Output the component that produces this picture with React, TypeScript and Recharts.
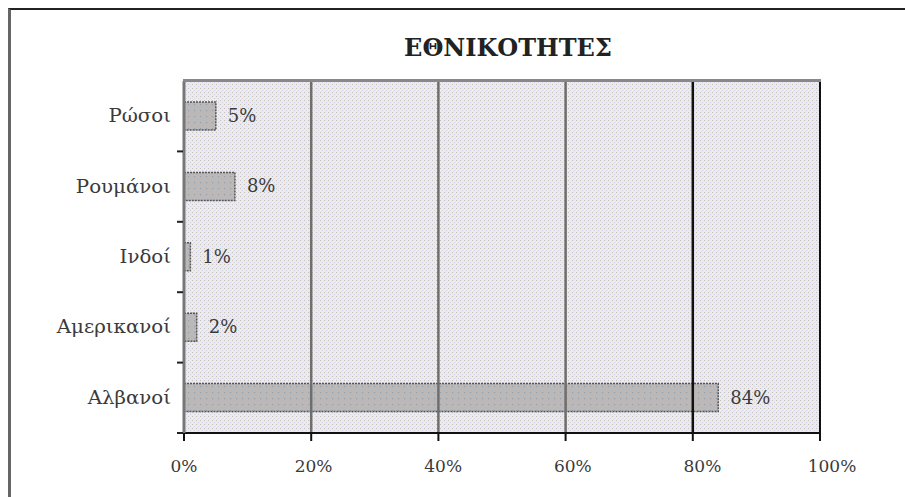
import React from 'react';
import { BarChart, Bar, XAxis, YAxis, CartesianGrid, ReferenceLine, LabelList } from 'recharts';

const categories = ['Ρώσοι', 'Ρουμάνοι', 'Ινδοί', 'Αμερικανοί', 'Αλβανοί'];
const values = [5, 8, 1, 2, 84];
const xTicks = [0, 20, 40, 60, 80, 100];
const gridLines = [20, 40, 60, 80];
const gridColors = ['#6e6e6e', '#6e6e6e', '#6e6e6e', '#111'];
const title = 'ΕΘΝΙΚΟΤΗΤΕΣ';

const data = categories.map((c, i) => ({ name: c, value: values[i] }));

const FONT = "'DejaVu Serif', serif";

const YTick = (props: any) => {
  const { x, y, payload } = props;
  const off = payload && payload.offset ? payload.offset : 35;
  return (
    <g>
      <text transform={`translate(${x - 5},${y + 6}) scale(1.1,1)`} textAnchor="end" fontFamily={FONT} fontSize={18} fill="#3a3a3a">
        {payload.value}
      </text>
      <line x1={x + 1} x2={x + 7} y1={y + off} y2={y + off} stroke="#222" strokeWidth={2} />
    </g>
  );
};

const XTick = (props: any) => {
  const { x, y, payload } = props;
  return (
    <g>
      <line x1={x} x2={x} y1={y - 8} y2={y} stroke="#111" strokeWidth={2} />
      <text x={x + payload.value * 0.12} y={y + 31} textAnchor="middle" fontFamily={FONT} fontSize={17} fill="#3a3a3a">
        {payload.value + '%'}
      </text>
    </g>
  );
};

const BarLabel = (props: any) => {
  const { x, y, width, height, value } = props;
  return (
    <text x={x + width + 12} y={y + height / 2 + 6} fontFamily={FONT} fontSize={18} fill="#3a3a3a">
      {value + '%'}
    </text>
  );
};

export default function App() {
  return (
    <div style={{ position: 'absolute', left: 0, top: 0, width: 905, height: 497, background: '#fff' }}>
      <div style={{ position: 'absolute', left: 8, top: 8, width: 897, height: 489, borderTop: '2px solid #222', borderLeft: '3px solid #666', boxSizing: 'border-box' }} />
      <div style={{ position: 'absolute', left: 0, top: 33, width: 1016, textAlign: 'center', fontFamily: FONT, fontWeight: 'bold', fontSize: 24, color: '#222' }}>
        {title}
      </div>
      <div style={{ position: 'absolute', left: 0, top: 0 }}>
        <BarChart width={905} height={497} data={data} layout="vertical" margin={{ top: 81, right: 85, bottom: 0, left: 0 }} barSize={28}>
          <defs>
            <pattern id="bgpat" width="4" height="4" patternUnits="userSpaceOnUse">
              <rect width="4" height="4" fill="#edeaea" />
              <rect x="0" y="0" width="1" height="1" fill="#c4c0c0" />
              <rect x="2" y="2" width="1" height="1" fill="#d2d2e6" />
            </pattern>
            <pattern id="barpat" width="6" height="6" patternUnits="userSpaceOnUse">
              <rect width="6" height="6" fill="#bdb8b8" />
              <rect x="2" y="2" width="1.2" height="1.2" fill="#8fa0b0" />
            </pattern>
          </defs>
          <CartesianGrid horizontal={false} vertical={false} fill="url(#bgpat)" />
          <XAxis
            type="number"
            domain={[0, 100]}
            ticks={xTicks}
            interval={0}
            height={64}
            axisLine={{ stroke: '#111', strokeWidth: 2 }}
            tickLine={false}
            tick={<XTick />}
          />
          <YAxis
            type="category"
            dataKey="name"
            width={184}
            axisLine={{ stroke: '#777', strokeWidth: 3 }}
            tickLine={false}
            tick={<YTick />}
            interval={0}
          />
          {gridLines.map((g, i) => (
            <ReferenceLine key={g} x={g} stroke={gridColors[i]} strokeWidth={2.5} />
          ))}
          <ReferenceLine x={100} stroke="#111" strokeWidth={2} />
          <Bar dataKey="value" fill="url(#barpat)" stroke="#555" strokeWidth={1.5} strokeDasharray="2 1" isAnimationActive={false}>
            <LabelList dataKey="value" content={<BarLabel />} />
          </Bar>
        </BarChart>
      </div>
      <div style={{ position: 'absolute', left: 183, top: 79, width: 638, height: 3, background: '#8a8888' }} />
    </div>
  );
}
